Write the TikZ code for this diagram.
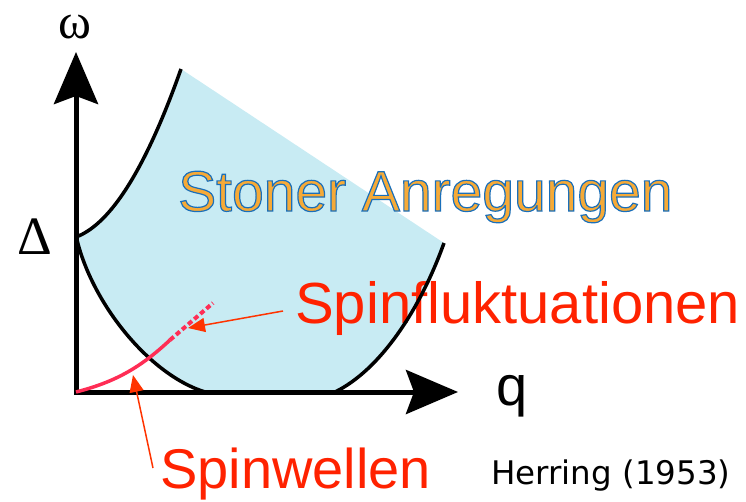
\documentclass[tikz,border=0pt]{standalone}
\usepackage{fontspec}
\setmainfont{Liberation Sans}
\newfontfamily\greekfont{Liberation Serif}
\newfontfamily\herringfont{DejaVu Sans}
\usetikzlibrary{arrows.meta}
\definecolor{fillblue}{RGB}{200,235,243}
\definecolor{stonerorange}{RGB}{246,170,55}
\definecolor{labelred}{RGB}{255,34,0}
\definecolor{leaderred}{RGB}{255,51,0}
\definecolor{spinpink}{RGB}{255,45,85}
\newcommand{\outlinedtext}[1]{{\color{stonerorange}\special{pdf:literal direct 2 Tr 1.2 w 0.102 0.435 0.729 RG}#1\special{pdf:literal direct 0 Tr}}}
\tikzset{
  curve/.style={draw=black, line width=3.5pt},
  axis/.style={draw=black, line width=5pt, line join=miter},
  leader/.style={draw=leaderred, line width=1.5pt, -{Triangle[length=17pt,width=14pt]}},
  bigtext/.style={inner sep=0pt, anchor=base west},
}
\begin{document}
\begin{tikzpicture}[x=1pt,y=-1pt]
\useasboundingbox (0,0) rectangle (746,501);
\coordinate (O) at (76,392);
\coordinate (ytip) at (76,52);
\coordinate (xtip) at (458,392);
\coordinate (D) at (77,240);
\coordinate (T) at (181,69);
\coordinate (R) at (444,243);
\coordinate (Rv) at (335,392);
\coordinate (Lv) at (205,392);
% Stoner region
\fill[fillblue] plot[domain=77:181, samples=40] (\x, {240-1.168*((\x-60)/10)^2}) -- (R)
  .. controls (420,310) and (380,370) .. (Rv) -- (Lv)
  .. controls (150,375) and (93,305) .. (D) -- cycle;
% texts
\node[bigtext, font=\fontsize{57}{60}\selectfont] (stoner) at (178,211) {\outlinedtext{Stoner Anregungen}};
\node[bigtext, text=labelred, font=\fontsize{58}{60}\selectfont] (sf) at (295,323) {Spinfluktuationen};
\node[bigtext, text=labelred, font=\fontsize{56}{60}\selectfont] (sw) at (160,488) {Spinwellen};
\node[bigtext, font=\herringfont\fontsize{32.5}{36}\selectfont] (her) at (491,484) {Herring (1953)};
\node[bigtext, font=\fontsize{56}{60}\selectfont] (q) at (496,405) {q};
\node[inner sep=0pt, font=\greekfont\fontsize{54}{60}\selectfont] (delta) at (35,237) {Δ};
\node[inner sep=0pt, anchor=base, font=\greekfont\fontsize{50}{54}\selectfont] (omega) at (75,38) {ω};
% boundary curves
\draw[curve] plot[domain=77:181, samples=40] (\x, {240-1.168*((\x-60)/10)^2});
\draw[curve] (R) .. controls (420,310) and (380,370) .. (Rv);
\draw[curve] (D) .. controls (93,305) and (150,375) .. (Lv);
% axes
\draw[axis, {Stealth[length=52pt,width=44pt,inset=8pt]}-{Stealth[length=52pt,width=44pt,inset=8pt]}] (ytip) -- (O) -- (xtip);
% spin wave dispersion
\coordinate (s1) at (170,340);
\coordinate (s2) at (213,303);
\draw[spinpink, line width=3.5pt] (O) .. controls (115,382) and (140,368) .. (s1);
\draw[spinpink, line width=4pt, dash pattern=on 5pt off 3pt] (s1) -- (s2);
% leaders
\coordinate (sfstart) at (283,311);
\coordinate (sftip) at (188,328);
\coordinate (swstart) at (153,468);
\coordinate (swtip) at (133,375);
\draw[leader] (sfstart) -- (sftip);
\draw[leader] (swstart) -- (swtip);
\end{tikzpicture}
\end{document}
